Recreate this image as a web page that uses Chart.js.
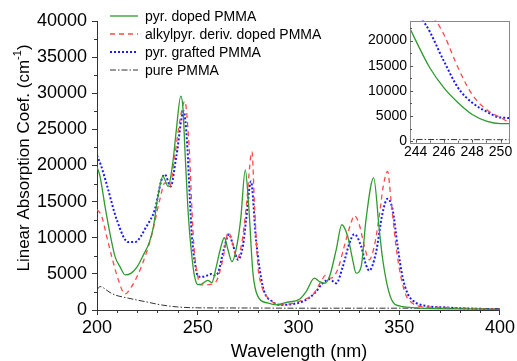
<!DOCTYPE html>
<html>
<head>
<meta charset="utf-8">
<script src="https://cdn.jsdelivr.net/npm/chart.js@4.4.0/dist/chart.umd.min.js"></script>
<style>
  body { margin: 0; background: #fff; }
  #wrap { position: relative; width: 517px; height: 361px; }
  #inset { position: absolute; left: 355px; top: 5px; }
</style>
</head>
<body>
<div id="wrap">
  <canvas id="main" width="517" height="361"></canvas>
  <canvas id="inset" width="160" height="160"></canvas>
</div>
<script>
'use strict';

const FONT = '"Liberation Sans", Arial, sans-serif';

// pyr. doped PMMA
const pyrDopedWl = [200, 201.5, 204, 206.4, 209, 211.4, 214, 217, 220, 223, 226, 228, 230, 232.7, 235.3, 237.8, 239.4, 241.6, 242.7, 243.6, 245, 246, 247, 248, 249, 250, 252, 255, 257, 259.2, 261, 263.2, 265, 267, 269, 271.3, 273.6, 275.3, 277.4, 279.9, 284.6, 289, 294, 300.5, 303.8, 307.9, 310.4, 312.9, 315.4, 318.7, 321.5, 324.4, 326.9, 328.6, 331.1, 333.5, 337.3, 340.1, 341.7, 344.2, 346.7, 350, 355, 360, 380, 400];
const pyrDopedAbs = [19800, 18500, 14300, 10650, 7360, 6000, 4860, 5100, 6000, 7600, 9400, 11500, 15300, 18500, 17100, 20800, 25000, 29600, 27800, 22400, 14600, 10600, 7650, 5300, 4000, 3500, 3600, 4100, 3800, 6000, 8200, 10000, 8330, 6700, 8330, 12500, 19400, 14350, 5100, 1850, 970, 700, 1060, 1480, 2550, 4400, 3940, 3700, 4630, 8330, 11800, 10200, 6950, 5090, 6000, 12500, 18300, 11100, 7200, 3240, 1160, 560, 370, 250, 150, 100];

// alkylpyr. deriv. doped PMMA
const alkylWl = [200, 202.3, 204.8, 207.3, 210.6, 213.9, 217.2, 222, 227, 231.2, 233.7, 236.1, 238.6, 241, 243.6, 245.5, 246, 247, 248, 249, 250, 251, 255, 259, 262.4, 265.2, 267.5, 269.5, 272, 274.1, 276.9, 278.2, 279.9, 281.5, 284, 287, 290.6, 297.1, 302, 307, 311.2, 313.6, 316.1, 319.4, 322.7, 326, 327.7, 330.2, 332.7, 335.1, 337.6, 340.1, 342, 344.2, 345.9, 348.4, 350.8, 353.3, 356.6, 361.6, 370, 380, 400];
const alkylAbs = [13900, 13000, 10200, 7400, 4170, 2220, 3240, 6000, 10200, 15300, 17600, 17100, 21300, 26000, 28900, 23600, 21200, 14600, 9270, 6300, 4700, 3470, 3500, 3900, 6900, 10800, 9000, 7100, 9500, 14350, 21900, 14350, 6000, 3500, 2000, 1150, 700, 930, 1390, 2080, 3940, 4860, 4400, 5560, 8800, 12000, 13060, 11800, 8800, 6950, 8800, 13000, 17000, 19200, 15300, 8800, 4630, 2080, 930, 460, 370, 250, 150];

// pyr. grafted PMMA
const graftedWl = [200, 202, 205, 209.8, 215.5, 218.8, 224.6, 228.7, 232, 233.7, 236.5, 239.4, 243, 244.7, 246, 247, 248, 249, 250, 251.8, 254, 256.8, 258.5, 260, 262.9, 265.5, 267.5, 270, 272.5, 274, 276.4, 279, 282.3, 287.1, 292.2, 297.1, 302, 307.9, 312, 315.4, 318.7, 322, 325.3, 327.7, 331.1, 333.5, 335.1, 338.4, 341.7, 344.2, 346.7, 349.2, 351.6, 354.1, 357.4, 363.2, 371.5, 380, 400];
const graftedAbs = [21400, 20000, 17200, 12500, 9400, 9400, 11600, 13900, 18000, 18750, 17100, 21300, 27500, 23200, 15900, 10600, 7650, 5900, 4700, 4580, 4700, 5000, 4800, 5100, 8330, 10500, 9000, 6950, 9000, 12500, 17800, 9500, 3240, 1150, 700, 830, 1160, 2300, 3700, 4260, 3700, 6000, 9260, 10500, 8800, 6250, 5460, 7870, 13400, 15400, 13900, 8800, 4630, 2300, 1160, 560, 370, 250, 100];

// pure PMMA
const pureWl = [200, 201.5, 203, 206, 209, 215, 224, 232, 240, 250, 270, 300, 350, 400];
const pureAbs = [2800, 3250, 3100, 2500, 2080, 1670, 1150, 700, 420, 300, 280, 250, 250, 200];

const seriesNames = ['pyr. doped PMMA', 'alkylpyr. deriv. doped PMMA', 'pyr. grafted PMMA', 'pure PMMA'];
const seriesColors = ['#2f9a2f', '#ff4a4a', '#1a1aff', '#333333'];
const seriesDash = [[], [5, 4], [2, 2], [6, 2, 1.5, 2]];
const seriesWidth = [1.3, 1.3, 2, 1];

const mainXTicks = [200, 250, 300, 350, 400];
const mainYTicks = [0, 5000, 10000, 15000, 20000, 25000, 30000, 35000, 40000];

function zip(xs, ys) {
  let out = [];
  for (let i = 0; i < xs.length; i++) {
    out.push({ x: xs[i], y: ys[i] });
  }
  return out;
}

function makeDatasets() {
  let pairs = [[pyrDopedWl, pyrDopedAbs], [alkylWl, alkylAbs], [graftedWl, graftedAbs], [pureWl, pureAbs]];
  return pairs.map((p, i) => ({
    label: seriesNames[i],
    data: zip(p[0], p[1]),
    borderColor: seriesColors[i],
    borderDash: seriesDash[i],
    borderWidth: seriesWidth[i],
    pointRadius: 0,
    fill: false,
    cubicInterpolationMode: 'monotone',
  }));
}

// minor ticks, legend and axis titles
const mainDecor = {
  id: 'mainDecor',
  afterDraw(chart) {
    const ctx = chart.ctx;
    const xs = chart.scales.x;
    const ys = chart.scales.y;
    const area = chart.chartArea;
    ctx.save();
    ctx.strokeStyle = '#333';
    ctx.lineWidth = 1;
    ctx.beginPath();
    for (let v = 210; v < 400; v += 10) {
      if (v % 50 === 0) continue;
      let px = Math.round(xs.getPixelForValue(v)) + 0.5;
      ctx.moveTo(px, area.bottom);
      ctx.lineTo(px, area.bottom + 3);
    }
    for (let v = 2500; v < 40000; v += 5000) {
      let py = Math.round(ys.getPixelForValue(v)) + 0.5;
      ctx.moveTo(area.left, py);
      ctx.lineTo(area.left - 3, py);
    }
    ctx.stroke();

    // legend
    ctx.font = '14px ' + FONT;
    ctx.textBaseline = 'middle';
    ctx.textAlign = 'left';
    for (let i = 0; i < seriesNames.length; i++) {
      let y = 16 + i * 18;
      ctx.strokeStyle = seriesColors[i];
      ctx.lineWidth = seriesWidth[i];
      ctx.setLineDash(seriesDash[i]);
      ctx.beginPath();
      ctx.moveTo(110, y);
      ctx.lineTo(138, y);
      ctx.stroke();
      ctx.setLineDash([]);
      ctx.fillStyle = '#000';
      ctx.fillText(seriesNames[i], 145, y + 1);
    }

    // x title
    ctx.font = '18px ' + FONT;
    ctx.textAlign = 'center';
    ctx.fillText('Wavelength (nm)', 299, 352);

    // y title with superscript
    ctx.translate(24, 158);
    ctx.rotate(-Math.PI / 2);
    let mainText = 'Linear Absorption Coef. (cm';
    ctx.font = '17px ' + FONT;
    let w1 = ctx.measureText(mainText).width;
    ctx.font = '11px ' + FONT;
    let w2 = ctx.measureText('-1').width;
    ctx.font = '17px ' + FONT;
    let w3 = ctx.measureText(')').width;
    let start = -(w1 + w2 + w3) / 2;
    ctx.textAlign = 'left';
    ctx.fillText(mainText, start, 0);
    ctx.font = '11px ' + FONT;
    ctx.fillText('-1', start + w1, -6);
    ctx.font = '17px ' + FONT;
    ctx.fillText(')', start + w1 + w2, 0);
    ctx.restore();
  }
};

const insetDecor = {
  id: 'insetDecor',
  afterDraw(chart) {
    const ctx = chart.ctx;
    const xs = chart.scales.x;
    const ys = chart.scales.y;
    const a = chart.chartArea;
    ctx.save();
    ctx.strokeStyle = '#888';
    ctx.lineWidth = 1;
    ctx.strokeRect(Math.round(a.left) + 0.5, Math.round(a.top) + 0.5, Math.round(a.right - a.left), Math.round(a.bottom - a.top));
    ctx.strokeStyle = '#555';
    ctx.beginPath();
    for (let v = 244; v <= 250; v += 1) {
      let px = Math.round(xs.getPixelForValue(v)) + 0.5;
      let len = v % 2 === 0 ? 3 : 2;
      ctx.moveTo(px, a.bottom);
      ctx.lineTo(px, a.bottom - len);
    }
    for (let v = 0; v <= 22500; v += 2500) {
      let py = Math.round(ys.getPixelForValue(v)) + 0.5;
      let len = v % 5000 === 0 ? 3 : 2;
      ctx.moveTo(a.left, py);
      ctx.lineTo(a.left + len, py);
    }
    ctx.stroke();
    ctx.restore();
  }
};

new Chart(document.getElementById('main'), {
  type: 'line',
  data: { datasets: makeDatasets() },
  plugins: [mainDecor],
  options: {
    responsive: false,
    animation: false,
    layout: { padding: { top: 21, right: 16, left: 0, bottom: 0 } },
    plugins: { legend: { display: false }, tooltip: { enabled: false } },
    scales: {
      x: {
        type: 'linear', min: 200, max: 400,
        afterFit: (s) => { s.height = 51; },
        afterBuildTicks: (s) => { s.ticks = mainXTicks.map(v => ({ value: v })); },
        ticks: { font: { size: 18, family: FONT }, color: '#000', padding: 2, maxRotation: 0, autoSkip: false, callback: (v) => String(v) },
        grid: { drawOnChartArea: false, tickLength: 5, color: '#333' },
        border: { color: '#333' },
      },
      y: {
        min: 0, max: 40000,
        afterFit: (s) => { s.width = 97; },
        afterBuildTicks: (s) => { s.ticks = mainYTicks.map(v => ({ value: v })); },
        ticks: { font: { size: 18, family: FONT }, color: '#000', padding: 5, autoSkip: false, callback: (v) => String(v) },
        grid: { drawOnChartArea: false, tickLength: 5, color: '#333' },
        border: { color: '#333' },
      },
    },
  },
});

const insetXTicks = [244, 246, 248, 250];
const insetYTicks = [0, 5000, 10000, 15000, 20000];

new Chart(document.getElementById('inset'), {
  type: 'line',
  data: { datasets: makeDatasets() },
  plugins: [insetDecor],
  options: {
    responsive: false,
    animation: false,
    layout: { padding: { top: 15.5, right: 6, left: 0, bottom: 0 } },
    plugins: { legend: { display: false }, tooltip: { enabled: false } },
    scales: {
      x: {
        type: 'linear', min: 243.6, max: 250.6,
        afterFit: (s) => { s.height = 22.3; },
        afterBuildTicks: (s) => { s.ticks = insetXTicks.map(v => ({ value: v })); },
        ticks: { font: { size: 14, family: FONT }, color: '#000', padding: 1, maxRotation: 0, autoSkip: false, callback: (v) => String(v) },
        grid: { display: false, drawTicks: false },
        border: { display: false },
      },
      y: {
        min: -300, max: 24000,
        afterFit: (s) => { s.width = 55; },
        afterBuildTicks: (s) => { s.ticks = insetYTicks.map(v => ({ value: v })); },
        ticks: { font: { size: 14, family: FONT }, color: '#000', padding: 3, autoSkip: false, callback: (v) => String(v) },
        grid: { display: false, drawTicks: false },
        border: { display: false },
      },
    },
  },
});
</script>
</body>
</html>
